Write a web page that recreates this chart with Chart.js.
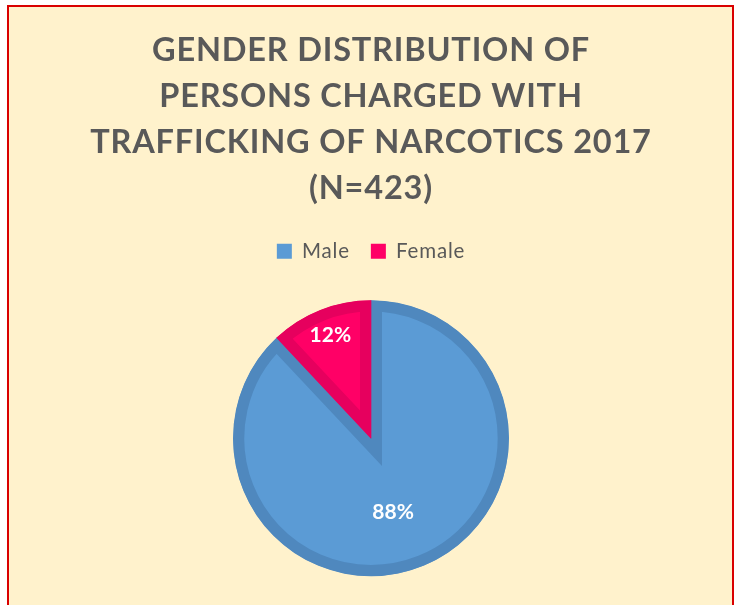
<!DOCTYPE html>
<html>
<head>
<meta charset="utf-8">
<script src="https://cdn.jsdelivr.net/npm/chart.js@4/dist/chart.umd.min.js"></script>
<style>
  html, body { margin: 0; padding: 0; background: #ffffff; overflow: hidden; }
  #wrap { position: relative; width: 734px; height: 605px; }
</style>
</head>
<body>
<div id="wrap"><canvas id="chart" width="734" height="605"></canvas></div>
<script>
// Persons charged with trafficking of narcotics in 2017, by gender (share in %)
const categories = ['Male', 'Female'];
const sharePercent = [88, 12];
const titleLines = [
  'GENDER DISTRIBUTION OF',
  'PERSONS CHARGED WITH',
  'TRAFFICKING OF NARCOTICS 2017',
  '(N=423)'
];

const fillColors = ['#5B9BD5', '#FF0066'];
const edgeColors = ['#4F88BE', '#E6005E'];

// Slightly tracked-out lettering for the title and legend
const tracking = {
  id: 'tracking',
  beforeLayout(chart) { chart.ctx.letterSpacing = '0.8px'; },
  beforeDraw(chart) { chart.ctx.letterSpacing = '0.8px'; }
};

// Cream panel with a thin red frame behind the whole chart
const framePlugin = {
  id: 'frame',
  beforeDraw(chart) {
    const ctx = chart.ctx;
    ctx.save();
    ctx.fillStyle = '#ffffff';
    ctx.fillRect(0, 0, chart.width, chart.height);
    ctx.fillStyle = '#FFF2CC';
    ctx.fillRect(8, 6, 725, chart.height);
    ctx.strokeStyle = '#D90000';
    ctx.lineWidth = 2;
    ctx.strokeRect(8, 6, 725, chart.height + 10);
    ctx.restore();
  }
};

// Percentage labels inside each slice
const sliceLabels = {
  id: 'sliceLabels',
  afterDatasetsDraw(chart, args, opts) {
    const ctx = chart.ctx;
    const meta = chart.getDatasetMeta(0);
    ctx.save();
    ctx.letterSpacing = '0px';
    ctx.fillStyle = '#ffffff';
    ctx.font = 'bold 21px Lato, "Open Sans", sans-serif';
    ctx.textAlign = 'center';
    ctx.textBaseline = 'middle';
    meta.data.forEach((arc, i) => {
      const p = arc.getProps(['x', 'y', 'startAngle', 'endAngle', 'outerRadius'], true);
      const mid = (p.startAngle + p.endAngle) / 2 + (opts.angleShift[i] || 0) * Math.PI / 180;
      const r = p.outerRadius * opts.radial[i];
      const v = chart.data.datasets[0].data[i];
      ctx.fillText(v + '%', p.x + Math.cos(mid) * r, p.y + Math.sin(mid) * r);
    });
    ctx.restore();
  }
};

new Chart(document.getElementById('chart'), {
  type: 'pie',
  data: {
    labels: categories,
    datasets: [{
      data: sharePercent,
      backgroundColor: fillColors,
      borderColor: edgeColors,
      borderWidth: 11,
      borderAlign: 'inner',
      borderJoinStyle: 'miter',
      radius: 138
    }]
  },
  options: {
    responsive: false,
    animation: false,
    events: [],
    layout: { padding: { left: 8, right: 0, top: 0, bottom: -4.25 } },
    plugins: {
      title: {
        display: true,
        text: titleLines,
        color: '#595959',
        font: { family: 'Lato, "Open Sans", sans-serif', size: 32.5, weight: 'bold', lineHeight: 1.415 },
        padding: { top: 27.5, bottom: 8.5 }
      },
      legend: {
        display: true,
        position: 'top',
        labels: {
          color: '#595959',
          font: { family: 'Lato, "Open Sans", sans-serif', size: 20.5 },
          boxWidth: 15,
          boxHeight: 15,
          padding: 21,
          generateLabels(chart) {
            return chart.data.labels.map((l, i) => ({
              text: l,
              fillStyle: fillColors[i],
              strokeStyle: fillColors[i],
              lineWidth: 0,
              fontColor: '#595959',
              index: i
            }));
          }
        }
      },
      tooltip: { enabled: false },
      sliceLabels: { radial: [0.56, 0.80], angleShift: [5, 0] }
    }
  },
  plugins: [tracking, framePlugin, sliceLabels]
});
</script>
</body>
</html>
